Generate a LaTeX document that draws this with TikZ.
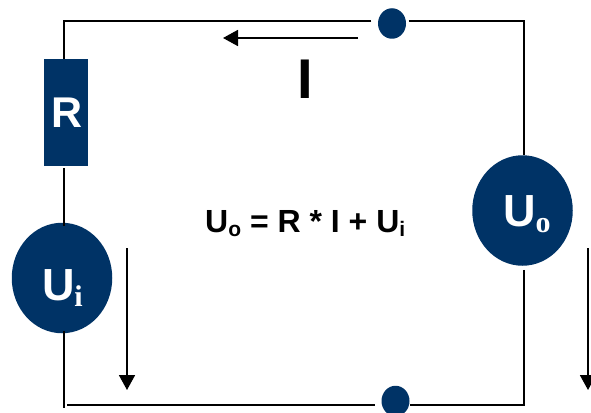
\documentclass[tikz,border=0pt]{standalone}
\usepackage{fontspec}
\setmainfont{Liberation Sans}
\newfontfamily\subserif{Liberation Serif}
\usetikzlibrary{arrows.meta,shapes.geometric}
\definecolor{navy}{RGB}{0,51,102}
\newcommand{\fs}[1]{\fontsize{#1}{#1}\selectfont\bfseries}
\newcommand{\placed}[3]{\raisebox{#2}[0pt][0pt]{\makebox[0pt][l]{\hspace*{#1}#3}}}
\tikzset{
  wire/.style={line width=2pt,black},
  flow/.style={line width=1.8pt,black,-{Triangle[length=15pt,width=16pt]}},
  source/.style={ellipse,fill=navy,text=white,inner sep=0pt,minimum width=100.5pt,minimum height=110.5pt},
  junction/.style={ellipse,fill=navy,inner sep=0pt,minimum width=28pt,minimum height=30.5pt},
  resistor/.style={rectangle,fill=navy,text=white,inner sep=0pt,minimum width=44pt,minimum height=107pt},
  label/.style={inner sep=0pt,anchor=base west,text=black}
}
\begin{document}
\begin{tikzpicture}[x=1pt,y=-1pt]
\useasboundingbox (0,0) rectangle (591,412);
\fill[white] (0,0) rectangle (591,412);
% corners
\coordinate (tl) at (64,21);
\coordinate (tr) at (524,21);
\coordinate (br) at (524,405);
\coordinate (bl) at (64,408);
\coordinate (bs) at (67,405);
% nodes
\node[junction] (top) at (392,23.5) {};
\node[junction] (bot) at (395.5,401) {};
\node[resistor] (R) at (66,112.5) {\placed{-15pt}{-14.5pt}{\fs{43}R}};
\node[source] (Ui) at (62,278) {\placed{-20pt}{-22pt}{\fs{45}U\raisebox{-6pt}{\subserif\fs{30}i}}};
\node[source] (Uo) at (522.5,210.5) {\placed{-19.5pt}{-15.5pt}{\fs{45}U\raisebox{-6pt}{\subserif\fs{30}o}}};
% wires
\draw[wire,line join=miter] (top.west |- tr) ++(-6.5,0) -- (tl) -- (R.north -| tl);
\draw[wire,shorten <=2pt,shorten >=-3pt] (R.south -| tl) -- (Ui.north -| tl);
\draw[wire,shorten <=-2pt] (Ui.south -| tl) -- (bl);
\draw[wire,shorten <=2.5pt,line join=miter] (top.east |- tr) -- (tr) -- (Uo.north -| tr);
\draw[wire,shorten <=4pt,line join=miter] (Uo.south -| br) -- (br) -- (bot.east |- br);
\draw[wire,shorten >=6.5pt] (bs) -- (bot.west |- bs);
% arrows
\coordinate (a1s) at (358,38); \coordinate (a1e) at (223,38);
\coordinate (a2s) at (127,248); \coordinate (a2e) at (127,390);
\coordinate (a3s) at (588,248); \coordinate (a3e) at (588,390);
\draw[flow] (a1s) -- (a1e);
\draw[flow] (a2s) -- (a2e);
\draw[flow] (a3s) -- (a3e);
% labels
\node[label] (cur) at (297.7,98) {\fs{56}I};
\node[label] (eq) at (205,232) {\fs{32}U\raisebox{-4.5pt}{\fs{21}o} = R * I + U\raisebox{-4.5pt}{\fs{21}i}};
\end{tikzpicture}
\end{document}
